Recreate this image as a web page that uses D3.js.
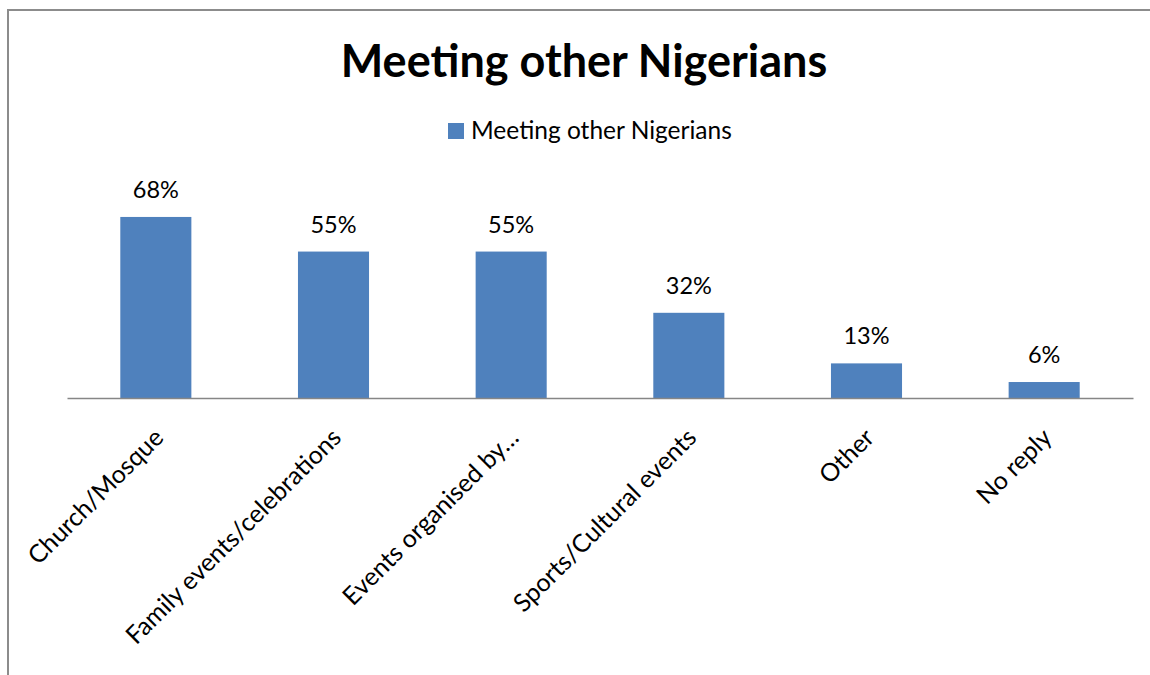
<!DOCTYPE html>
<html>
<head>
<meta charset="utf-8">
<script src="https://cdn.jsdelivr.net/npm/d3@7"></script>
<style>
  html, body { margin: 0; padding: 0; background: #fff; }
  svg { display: block; font-family: Lato, "Open Sans", sans-serif; }
</style>
</head>
<body>
<svg id="chart" width="1150" height="675"></svg>
<script>
// Survey answers: where respondents meet other Nigerians
const categories = [
  "Church/Mosque",
  "Family events/celebrations",
  "Events organised by\u2026",
  "Sports/Cultural events",
  "Other",
  "No reply"
];
const values = [68, 55, 55, 32, 13, 6];
const seriesName = "Meeting other Nigerians";
const chartTitle = "Meeting other Nigerians";

const svg = d3.select("#chart");
const W = 1150, H = 675;

// chart frame (left and top edges)
svg.append("path")
  .attr("d", `M8,${H} L8,10 L${W},10`)
  .attr("fill", "none")
  .attr("stroke", "#8c8c8c")
  .attr("stroke-width", 2);

const plot = { left: 67, right: 1133, baseline: 398 };

const x = d3.scaleBand()
  .domain(categories)
  .range([plot.left, plot.right])
  .paddingInner(0.6)
  .paddingOuter(0.3);

const y = d3.scaleLinear()
  .domain([0, 80])
  .range([plot.baseline, plot.baseline - 213]);

// bars
svg.append("g")
  .selectAll("rect")
  .data(values)
  .join("rect")
  .attr("x", (d, i) => x(categories[i]))
  .attr("y", d => y(d))
  .attr("width", x.bandwidth())
  .attr("height", d => y(0) - y(d))
  .attr("fill", "#4f81bd");

// value labels
svg.append("g")
  .selectAll("text")
  .data(values)
  .join("text")
  .attr("x", (d, i) => x(categories[i]) + x.bandwidth() / 2)
  .attr("y", d => y(d) - 19)
  .attr("text-anchor", "middle")
  .attr("font-size", 23.5)
  .attr("fill", "#000")
  .text(d => d + "%");

// category axis
const xAxis = d3.axisBottom(x).tickSize(0).tickPadding(0);
const gx = svg.append("g")
  .attr("transform", `translate(0,${plot.baseline})`)
  .call(xAxis);
gx.select(".domain")
  .attr("stroke", "#868686")
  .attr("stroke-width", 1.5);
gx.selectAll(".tick text")
  .attr("font-family", "Lato, 'Open Sans', sans-serif")
  .attr("font-size", 25)
  .attr("fill", "#000")
  .attr("text-anchor", "end")
  .attr("dy", "0.35em")
  .attr("transform", "translate(3,35) rotate(-45)");

// title
svg.append("text")
  .attr("x", 584)
  .attr("y", 77)
  .attr("text-anchor", "middle")
  .attr("font-size", 45)
  .attr("font-weight", "bold")
  .attr("fill", "#000")
  .text(chartTitle);

// legend
const legend = svg.append("g").attr("transform", "translate(448,123)");
legend.append("rect")
  .attr("width", 16)
  .attr("height", 16)
  .attr("fill", "#4f81bd");
legend.append("text")
  .attr("x", 23)
  .attr("y", 16)
  .attr("font-size", 24.5)
  .attr("fill", "#000")
  .text(seriesName);
</script>
</body>
</html>
